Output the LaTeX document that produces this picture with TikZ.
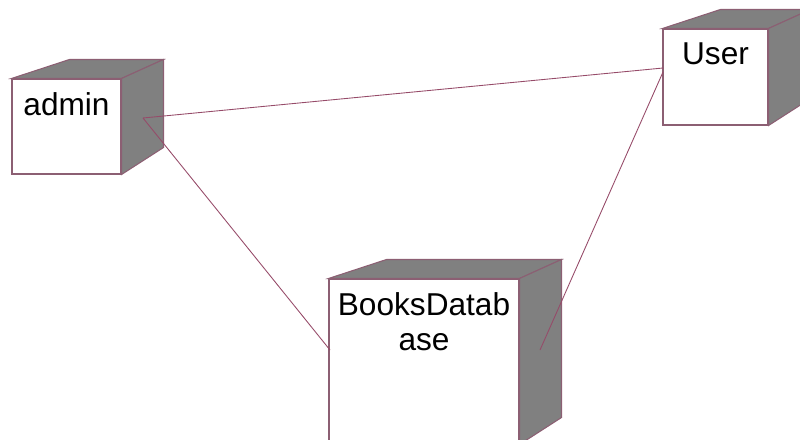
\documentclass[tikz,border=0pt]{standalone}
\usepackage{fontspec}
\setmainfont{Liberation Sans}
\usetikzlibrary{calc}
\definecolor{edgecol}{RGB}{140,95,115}
\definecolor{facecol}{RGB}{128,128,128}
\definecolor{linkcol}{RGB}{150,75,105}

\begin{document}
\begin{tikzpicture}[x=0.02cm, y=-0.02cm,
    front/.style={rectangle, draw=edgecol, fill=white, line width=0.6pt, inner sep=0pt},
    side/.style={draw=edgecol, fill=facecol, line width=0.6pt},
    name text/.style={anchor=north, inner sep=0pt, align=center, font=\fontsize{18}{20}\selectfont},
    link/.style={draw=linkcol, line width=0.5pt}]
    \useasboundingbox (0,0) rectangle (800,439);
    \clip (0,0) rectangle (800,439);

    % Draw nodes
    \node[front, minimum width=2.18cm, minimum height=1.9cm] (admin) at (66.5,126.5) {};
    \node[front, minimum width=2.1cm, minimum height=1.92cm] (user) at (715.5,77) {};
    \node[front, minimum width=3.8cm, minimum height=3.3cm] (books) at (424,361.5) {};

    % Draw sides
    \foreach \n in {admin,user,books} {
        \draw[side] (\n.north west) -- ++(58,-19) -- ($(\n.north east)+(42,-19)$) -- (\n.north east) -- cycle;
        \draw[side] (\n.north east) -- ++(42,-19) -- ($(\n.south east)+(42,-27)$) -- (\n.south east) -- cycle;
    }

    % Labels
    \node[name text] (admin-name) at ($(admin.north)+(0,14)$) {admin};
    \node[name text] (user-name) at ($(user.north)+(0,14)$) {User};
    \node[name text] (books-name) at ($(books.north)+(0,14)$) {BooksDatab\\ase};

    % Draw connections
    \coordinate (admin-end) at (143,118);
    \coordinate (user-end1) at (663,68);
    \coordinate (user-end2) at (663,72);
    \coordinate (books-end1) at (330,350);
    \coordinate (books-end2) at (540,350);
    \draw[link] (admin-end) -- (user-end1);
    \draw[link] (admin-end) -- (books-end1);
    \draw[link] (user-end2) -- (books-end2);
\end{tikzpicture}
\end{document}
